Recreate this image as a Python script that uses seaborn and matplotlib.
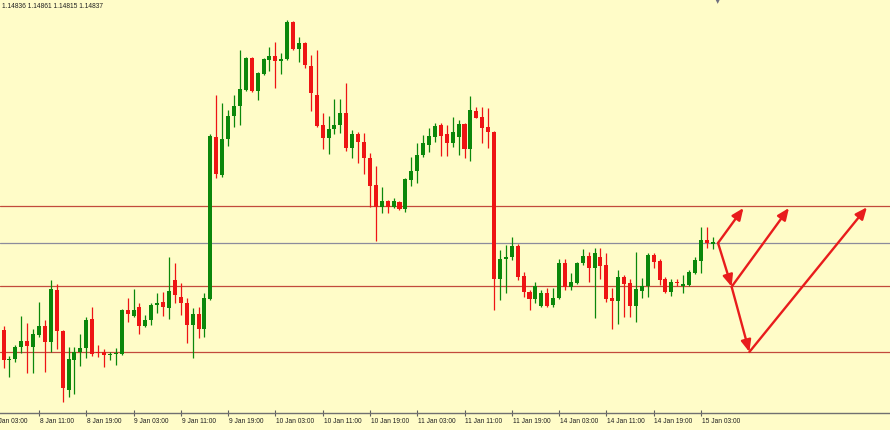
import seaborn as sns
import matplotlib.pyplot as plt
import numpy as np

sns.set_style("white")
plt.rcParams['font.family'] = ['Liberation Sans', 'DejaVu Sans']

# EURUSD H1 candles, from 8 Jan 05:00 (index 2) to 15 Jan 05:00 (index 122)
opens = [1.14490, 1.14370, 1.14374, 1.14422, 1.14446, 1.14422, 1.14470, 1.14506, 1.14442, 1.14650,
         1.14486, 1.14250, 1.14370, 1.14402, 1.14418, 1.14534, 1.14402, 1.14402, 1.14390, 1.14394,
         1.14394, 1.14570, 1.14546, 1.14582, 1.14506, 1.14530, 1.14590, 1.14602, 1.14578, 1.14690,
         1.14622, 1.14598, 1.14510, 1.14554, 1.14494, 1.14614, 1.15262, 1.15110, 1.15254, 1.15346,
         1.15386, 1.15450, 1.15578, 1.15446, 1.15514, 1.15570, 1.15586, 1.15566, 1.15574, 1.15722,
         1.15614, 1.15638, 1.15546, 1.15430, 1.15310, 1.15258, 1.15294, 1.15310, 1.15358, 1.15218,
         1.15274, 1.15242, 1.15178, 1.15070, 1.14982, 1.15006, 1.14982, 1.15002, 1.14974, 1.15090,
         1.15126, 1.15190, 1.15230, 1.15262, 1.15310, 1.15274, 1.15238, 1.15262, 1.15314, 1.15214,
         1.15366, 1.15342, 1.15302, 1.15282, 1.14694, 1.14774, 1.14782, 1.14826, 1.14706, 1.14642,
         1.14614, 1.14586, 1.14638, 1.14590, 1.14618, 1.14758, 1.14662, 1.14678, 1.14758, 1.14786,
         1.14738, 1.14782, 1.14750, 1.14618, 1.14606, 1.14702, 1.14678, 1.14586, 1.14646, 1.14666,
         1.14790, 1.14766, 1.14694, 1.14642, 1.14682, 1.14666, 1.14670, 1.14718, 1.14766, 1.14850,
         1.14836]
highs = [1.14506, 1.14386, 1.14430, 1.14546, 1.14518, 1.14494, 1.14602, 1.14530, 1.14690, 1.14674,
         1.14490, 1.14422, 1.14422, 1.14474, 1.14542, 1.14582, 1.14430, 1.14414, 1.14402, 1.14418,
         1.14574, 1.14618, 1.14654, 1.14598, 1.14550, 1.14598, 1.14638, 1.14642, 1.14782, 1.14758,
         1.14678, 1.14618, 1.14578, 1.14582, 1.14638, 1.15274, 1.15430, 1.15398, 1.15370, 1.15430,
         1.15610, 1.15582, 1.15582, 1.15522, 1.15578, 1.15622, 1.15642, 1.15598, 1.15730, 1.15726,
         1.15662, 1.15642, 1.15590, 1.15610, 1.15358, 1.15346, 1.15414, 1.15414, 1.15478, 1.15290,
         1.15282, 1.15278, 1.15198, 1.15146, 1.15062, 1.15010, 1.15018, 1.15006, 1.15098, 1.15182,
         1.15238, 1.15270, 1.15298, 1.15318, 1.15318, 1.15310, 1.15342, 1.15330, 1.15318, 1.15426,
         1.15382, 1.15382, 1.15378, 1.15286, 1.14810, 1.14830, 1.14862, 1.14834, 1.14722, 1.14650,
         1.14682, 1.14650, 1.14658, 1.14658, 1.14774, 1.14774, 1.14718, 1.14762, 1.14814, 1.14802,
         1.14818, 1.14818, 1.14798, 1.14658, 1.14730, 1.14710, 1.14694, 1.14802, 1.14698, 1.14798,
         1.14798, 1.14774, 1.14702, 1.14694, 1.14694, 1.14710, 1.14730, 1.14782, 1.14902, 1.14902,
         1.14861]
lows = [1.14338, 1.14302, 1.14362, 1.14398, 1.14318, 1.14318, 1.14462, 1.14322, 1.14402, 1.14414,
        1.14202, 1.14222, 1.14234, 1.14346, 1.14378, 1.14386, 1.14382, 1.14342, 1.14370, 1.14350,
        1.14390, 1.14522, 1.14542, 1.14474, 1.14502, 1.14510, 1.14558, 1.14546, 1.14534, 1.14598,
        1.14550, 1.14438, 1.14378, 1.14458, 1.14462, 1.14610, 1.15098, 1.15102, 1.15226, 1.15302,
        1.15310, 1.15446, 1.15442, 1.15410, 1.15510, 1.15526, 1.15458, 1.15514, 1.15570, 1.15610,
        1.15562, 1.15538, 1.15366, 1.15302, 1.15214, 1.15194, 1.15274, 1.15278, 1.15206, 1.15178,
        1.15158, 1.15114, 1.14982, 1.14846, 1.14958, 1.14958, 1.14978, 1.14970, 1.14962, 1.15066,
        1.15078, 1.15182, 1.15202, 1.15242, 1.15186, 1.15186, 1.15222, 1.15190, 1.15178, 1.15166,
        1.15338, 1.15238, 1.15218, 1.14570, 1.14610, 1.14638, 1.14770, 1.14690, 1.14622, 1.14570,
        1.14598, 1.14582, 1.14582, 1.14582, 1.14614, 1.14650, 1.14650, 1.14674, 1.14750, 1.14682,
        1.14538, 1.14694, 1.14602, 1.14494, 1.14514, 1.14542, 1.14542, 1.14522, 1.14618, 1.14622,
        1.14738, 1.14670, 1.14638, 1.14626, 1.14666, 1.14638, 1.14666, 1.14714, 1.14718, 1.14818,
        1.14815]
closes = [1.14370, 1.14374, 1.14422, 1.14446, 1.14426, 1.14474, 1.14506, 1.14442, 1.14654, 1.14486,
          1.14258, 1.14374, 1.14402, 1.14418, 1.14530, 1.14394, 1.14398, 1.14390, 1.14394, 1.14396,
          1.14570, 1.14554, 1.14570, 1.14506, 1.14530, 1.14590, 1.14598, 1.14582, 1.14646, 1.14630,
          1.14598, 1.14510, 1.14554, 1.14494, 1.14618, 1.15266, 1.15114, 1.15254, 1.15346, 1.15386,
          1.15454, 1.15578, 1.15446, 1.15518, 1.15574, 1.15586, 1.15566, 1.15574, 1.15722, 1.15614,
          1.15638, 1.15550, 1.15438, 1.15306, 1.15258, 1.15294, 1.15310, 1.15358, 1.15218, 1.15274,
          1.15242, 1.15178, 1.15066, 1.14982, 1.15006, 1.14982, 1.15006, 1.14974, 1.15094, 1.15126,
          1.15190, 1.15238, 1.15266, 1.15306, 1.15266, 1.15238, 1.15282, 1.15314, 1.15214, 1.15370,
          1.15338, 1.15298, 1.15282, 1.14694, 1.14774, 1.14782, 1.14826, 1.14702, 1.14642, 1.14614,
          1.14666, 1.14638, 1.14586, 1.14618, 1.14758, 1.14662, 1.14682, 1.14758, 1.14786, 1.14738,
          1.14798, 1.14746, 1.14614, 1.14606, 1.14702, 1.14674, 1.14586, 1.14654, 1.14666, 1.14790,
          1.14762, 1.14690, 1.14642, 1.14682, 1.14678, 1.14674, 1.14722, 1.14770, 1.14850, 1.14838,
          1.14837]

time_labels = ["8 Jan 03:00", "8 Jan 11:00", "8 Jan 19:00", "9 Jan 03:00", "9 Jan 11:00",
               "9 Jan 19:00", "10 Jan 03:00", "10 Jan 11:00", "10 Jan 19:00", "11 Jan 03:00",
               "11 Jan 11:00", "11 Jan 19:00", "14 Jan 03:00", "14 Jan 11:00", "14 Jan 19:00",
               "15 Jan 03:00"]

levels = [1.14986, 1.14666, 1.14402]

# forecast arrows (bar index, price)
arrow_starts = [(122.9, 1.14838), (122.9, 1.14838), (125.2, 1.14663), (125.2, 1.14663), (128.2, 1.14402)]
arrow_ends = [(127.2, 1.14978), (125.2, 1.14663), (134.9, 1.14978), (128.2, 1.14402), (148.1, 1.14981)]

bg = "#fffcc8"
up_col = "#0b870b"
dn_col = "#ee1414"

fig = plt.figure(figsize=(8.9, 4.3), dpi=100, facecolor=bg)
ax = fig.add_axes([0, 17 / 430, 1, 413 / 430])
ax.set_facecolor(bg)

o = np.array(opens)
h = np.array(highs)
l = np.array(lows)
c = np.array(closes)
x = np.arange(2, 2 + len(o))
cols = np.where(c >= o, up_col, dn_col)

ax.vlines(x, l, h, colors=cols, lw=0.9, zorder=2)
body_lo = np.minimum(o, c)
body_h = np.maximum(np.abs(c - o), 0.00004)
ax.bar(x, body_h, bottom=body_lo, width=0.68, color=cols, linewidth=0, zorder=3)

for lv in levels:
    ax.axhline(lv, color="#c24a3c", lw=0.9, zorder=1)
ax.axhline(c[-1], color="#8c8c9c", lw=0.9, zorder=1)

for s, e in zip(arrow_starts, arrow_ends):
    ax.annotate("", xy=e, xytext=s,
                arrowprops=dict(arrowstyle="-|>,head_length=0.7,head_width=0.3",
                                color="#e81c1c", lw=1.7, shrinkA=0, shrinkB=0),
                zorder=5)

ax.set_xlim(1.4, 152.0)
ax.set_ylim(1.14158, 1.15810)

tick_pos = np.arange(len(time_labels)) * 8
ax.set_xticks(tick_pos[tick_pos > 1.4])
ax.set_xticklabels([])
ax.tick_params(axis="x", direction="inout", length=4, width=0.8, color="#606060", bottom=True)
ax.set_yticks([])
for pos, lab in zip(tick_pos, time_labels):
    ax.text(pos + 0.15, -0.02, lab, transform=ax.get_xaxis_transform(),
            ha="left", va="center", fontsize=4.8, color="#202020", clip_on=False)

for side in ["top", "right", "left"]:
    ax.spines[side].set_visible(False)
ax.spines["bottom"].set_color("#707070")
ax.spines["bottom"].set_linewidth(1.0)

fig.text(2 / 890, 1 - 6 / 430, "1.14836 1.14861 1.14815 1.14837",
         ha="left", va="center", fontsize=4.8, color="#202020")
fig.text(718 / 890, 1 - 1 / 430, "\u25bc", ha="center", va="center",
         fontsize=5, color="#707080", family="DejaVu Sans")

plt.savefig("out.png", dpi=100, facecolor=bg)
